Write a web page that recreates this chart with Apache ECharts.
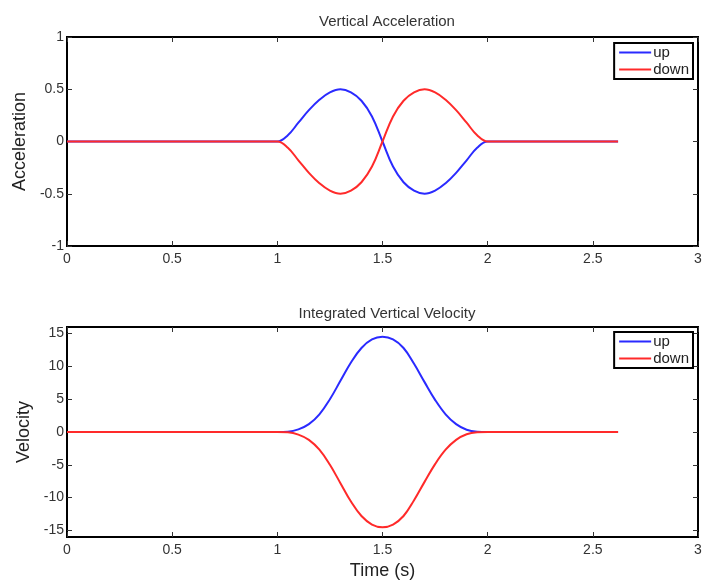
<!DOCTYPE html>
<html>
<head>
<meta charset="utf-8">
<script src="https://cdn.jsdelivr.net/npm/echarts@6/dist/echarts.min.js"></script>
<style>
  html, body { margin: 0; padding: 0; background: #fff; }
  #chart { width: 705px; height: 586px; }
</style>
</head>
<body>
<div id="chart"></div>
<script>
  // time samples (s)
  var time = [0, 0.5, 0.9, 0.95, 1.0, 1.05, 1.1, 1.15, 1.2, 1.25, 1.3, 1.35, 1.4, 1.45, 1.5,
              1.55, 1.6, 1.65, 1.7, 1.75, 1.8, 1.85, 1.9, 1.95, 2.0, 2.05, 2.1, 2.5, 2.62]

  var accelUp   = [0, 0, 0, 0, 0, 0.06, 0.18, 0.30, 0.40, 0.47, 0.50, 0.47, 0.39, 0.24, 0,
                   -0.24, -0.39, -0.47, -0.50, -0.47, -0.40, -0.30, -0.18, -0.06, 0, 0, 0, 0, 0]
  var accelDown = [0, 0, 0, 0, 0, -0.06, -0.18, -0.30, -0.40, -0.47, -0.50, -0.47, -0.39, -0.24, 0,
                   0.24, 0.39, 0.47, 0.50, 0.47, 0.40, 0.30, 0.18, 0.06, 0, 0, 0, 0, 0]

  var velUp   = [0, 0, 0, 0, 0, 0.05, 0.4, 1.2, 2.7, 5.0, 7.8, 10.6, 12.8, 14.1, 14.5,
                 14.1, 12.8, 10.4, 7.6, 4.9, 2.7, 1.2, 0.35, 0.05, 0, 0, 0, 0, 0]
  var velDown = [0, 0, 0, 0, 0, -0.05, -0.4, -1.2, -2.7, -5.0, -7.8, -10.6, -12.8, -14.1, -14.5,
                 -14.1, -12.8, -10.4, -7.6, -4.9, -2.7, -1.2, -0.35, -0.05, 0, 0, 0, 0, 0]

  var timeTicks = [0, 0.5, 1, 1.5, 2, 2.5, 3]
  var accelTicks = [-1, -0.5, 0, 0.5, 1]
  var velTicks = [-15, -10, -5, 0, 5, 10, 15]

  var FONT = "'Liberation Sans', Arial, sans-serif"
  var BLUE = '#2a2aff'
  var RED = '#ff2a2a'

  function pairs(xs, ys) {
    return xs.map(function (x, i) { return [x, ys[i]] })
  }

  function xAx(grid, pos, labels, extra) {
    return Object.assign({
      type: 'value', gridIndex: grid, position: pos, min: 0, max: 3,
      axisLine: { show: false, onZero: false },
      axisTick: { show: true, inside: true, length: 5, lineStyle: { color: '#333' }, customValues: timeTicks },
      axisLabel: { show: labels, color: '#333', fontSize: 14, fontFamily: FONT, margin: 6, customValues: timeTicks },
      splitLine: { show: false }
    }, extra || {})
  }

  function yAx(grid, pos, labels, min, max, ticks, extra) {
    return Object.assign({
      type: 'value', gridIndex: grid, position: pos, min: min, max: max,
      axisLine: { show: false, onZero: false },
      axisTick: { show: true, inside: true, length: 5, lineStyle: { color: '#333' }, customValues: ticks },
      axisLabel: { show: labels, color: '#333', fontSize: 14, fontFamily: FONT, margin: 3, customValues: ticks },
      splitLine: { show: false }
    }, extra || {})
  }

  function line(name, xi, yi, data, color) {
    return {
      name: name, type: 'line', xAxisIndex: xi, yAxisIndex: yi,
      data: data, smooth: 0.4, symbol: 'none', silent: true,
      lineStyle: { width: 2, color: color }, itemStyle: { color: color }
    }
  }

  function legendAt(top) {
    return {
      data: ['up', 'down'], orient: 'vertical', right: 12, top: top,
      backgroundColor: '#fff', borderColor: '#000', borderWidth: 2,
      padding: [2, 4, 2, 5], itemGap: 2, itemWidth: 32, itemHeight: 2, icon: 'rect',
      textStyle: { color: '#222', fontSize: 15, fontFamily: FONT, padding: [0, 0, 0, -3] },
      selectedMode: false
    }
  }

  var chart = echarts.init(document.getElementById('chart'))
  chart.setOption({
    animation: false,
    backgroundColor: '#fff',
    title: [
      { text: 'Vertical Acceleration', left: 382, top: 9, textAlign: 'center',
        textStyle: { fontSize: 15, fontWeight: 'normal', color: '#333', fontFamily: FONT } },
      { text: 'Integrated Vertical Velocity', left: 382, top: 301, textAlign: 'center',
        textStyle: { fontSize: 15, fontWeight: 'normal', color: '#333', fontFamily: FONT } }
    ],
    legend: [legendAt(43), legendAt(332)],
    grid: [
      { left: 67, right: 7, top: 37, height: 209, show: true, borderColor: '#000', borderWidth: 2, backgroundColor: '#fff' },
      { left: 67, right: 7, top: 327, height: 210, show: true, borderColor: '#000', borderWidth: 2, backgroundColor: '#fff' }
    ],
    xAxis: [
      xAx(0, 'bottom', true),
      xAx(0, 'top', false),
      xAx(1, 'bottom', true, {
        name: 'Time (s)', nameLocation: 'middle', nameGap: 25,
        nameTextStyle: { fontSize: 18, color: '#222', fontFamily: FONT }
      }),
      xAx(1, 'top', false)
    ],
    yAxis: [
      yAx(0, 'left', true, -1, 1, accelTicks, {
        name: 'Acceleration', nameLocation: 'middle', nameGap: 37,
        nameTextStyle: { fontSize: 18, color: '#222', fontFamily: FONT }
      }),
      yAx(0, 'right', false, -1, 1, accelTicks),
      yAx(1, 'left', true, -16, 16, velTicks, {
        name: 'Velocity', nameLocation: 'middle', nameGap: 33,
        nameTextStyle: { fontSize: 18, color: '#222', fontFamily: FONT }
      }),
      yAx(1, 'right', false, -16, 16, velTicks)
    ],
    series: [
      line('up', 0, 0, pairs(time, accelUp), BLUE),
      line('down', 0, 0, pairs(time, accelDown), RED),
      line('up', 2, 2, pairs(time, velUp), BLUE),
      line('down', 2, 2, pairs(time, velDown), RED)
    ]
  })
</script>
</body>
</html>
